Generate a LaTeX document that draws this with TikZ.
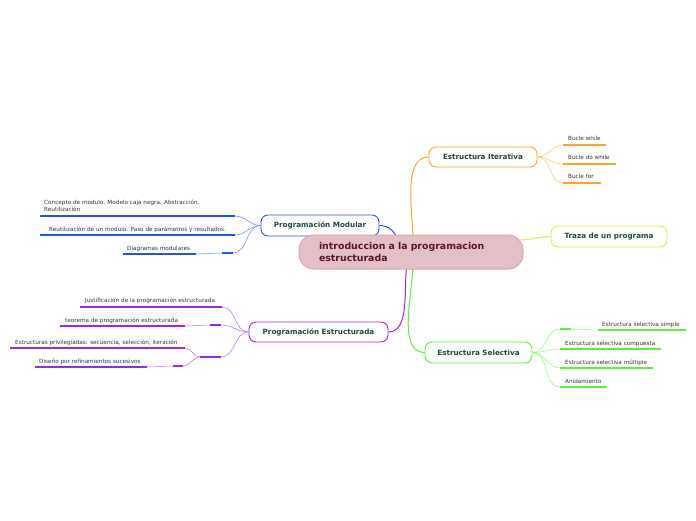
\documentclass[tikz,border=0pt]{standalone}
\usepackage{fontspec}
\setmainfont{DejaVu Sans}
\definecolor{iterc}{HTML}{FCA426}
\definecolor{trazc}{HTML}{DDF03A}
\definecolor{selc}{HTML}{5CF03A}
\definecolor{modc}{HTML}{2255EE}
\definecolor{estc}{HTML}{9A28E8}
\definecolor{cenfill}{HTML}{E3BFC6}
\definecolor{cenline}{HTML}{D9A8B2}
\definecolor{centext}{HTML}{5C1428}
\definecolor{maintext}{HTML}{1B4B3B}
\definecolor{leaftext}{HTML}{333333}
\tikzset{
  mainbox/.style={draw, fill=white, rounded corners=7pt, line width=0.9pt, text=maintext,
    font=\bfseries\fontsize{7.2}{8.5}\selectfont, inner sep=0pt},
  leaf/.style={anchor=base west, inner sep=0pt, text=leaftext, font=\fontsize{5.7}{7}\selectfont},
  uline/.style={line width=1.3pt},
  thin/.style={line width=0.5pt},
  trunk/.style={line width=1pt},
  cenbox/.style={draw=cenline, fill=cenfill, line width=1pt, rounded corners=15pt, minimum width=224pt,
    minimum height=34pt, text width=184pt, align=left, inner xsep=20pt, text=centext,
    font=\bfseries\fontsize{9.4}{12.8}\selectfont},
}
\begin{document}
\begin{tikzpicture}[x=1pt,y=-1pt]
\useasboundingbox (0,0) rectangle (696,520);

% main nodes
\node[mainbox, draw=iterc, minimum width=108pt, minimum height=20pt] (iter) at (483,157) {Estructura Iterativa};
\node[mainbox, draw=trazc, minimum width=116pt, minimum height=21pt] (traza) at (609,236.5) {Traza de un programa};
\node[mainbox, draw=selc, minimum width=107pt, minimum height=21pt] (sel) at (478.5,352.5) {Estructura Selectiva};
\node[mainbox, draw=modc, minimum width=118pt, minimum height=21pt] (mod) at (320,225.5) {Programación Modular};
\node[mainbox, draw=estc, minimum width=139pt, minimum height=20pt] (estr) at (318.5,332) {Programación Estructurada};

% trunk connectors
\coordinate (cIt) at (413,240);
\coordinate (cSe) at (413,264);
\coordinate (cEs) at (407,264);
\coordinate (cMo) at (397,240);
\coordinate (cTr) at (520,240);
\draw[trunk, iterc] (cIt) to[out=90, in=180, looseness=0.8] (iter.west);
\draw[trunk, selc] (cSe) to[out=-90, in=180, looseness=0.8] (sel.west);
\draw[trunk, estc] (cEs) to[out=-100, in=0, looseness=0.8] (estr.east);
\draw[trunk, modc] (mod.east) to[out=0, in=100] (cMo);
\draw[trunk, trazc] (cTr) to[out=0, in=180] (traza.west);

% central
\node[cenbox] (cen) at (411,252) {introduccion a la programacion\\estructurada};

% ---- Iterativa leaves
\node[leaf] (bw) at (568,140) {Bucle while};
\node[leaf] (bdw) at (568,159) {Bucle do while};
\node[leaf] (bf) at (568,178) {Bucle for};
\coordinate (bwA) at (563,145); \coordinate (bwB) at (606,145);
\coordinate (bdwA) at (563,164); \coordinate (bdwB) at (616,164);
\coordinate (bfA) at (563,183); \coordinate (bfB) at (601,183);
\draw[uline, iterc] (bwA) -- (bwB);
\draw[uline, iterc] (bdwA) -- (bdwB);
\draw[uline, iterc] (bfA) -- (bfB);
\draw[thin, iterc!70] (iter.east) to[out=0, in=180] (bwA);
\draw[thin, iterc!70] (iter.east) to[out=0, in=180] (bdwA);
\draw[thin, iterc!70] (iter.east) to[out=0, in=180] (bfA);

% ---- Selectiva leaves
\node[leaf] (ss) at (602,326) {Estructura selectiva simple};
\node[leaf] (sc) at (565,345) {Estructura selectiva compuesta};
\node[leaf] (sm) at (565,364) {Estructura selectiva múltiple};
\node[leaf] (an) at (565,383) {Anidamiento};
\coordinate (ssA) at (560,329); \coordinate (ssM) at (571,329);
\coordinate (ssC) at (598,330); \coordinate (ssB) at (686,330);
\coordinate (scA) at (560,349); \coordinate (scB) at (661,349);
\coordinate (smA) at (560,368); \coordinate (smB) at (653,368);
\coordinate (anA) at (560,387); \coordinate (anB) at (607,387);
\draw[uline, selc] (ssA) -- (ssM);
\draw[thin, selc!70] (ssM) to[out=0, in=180] (ssC);
\draw[uline, selc] (ssC) -- (ssB);
\draw[uline, selc] (scA) -- (scB);
\draw[uline, selc] (smA) -- (smB);
\draw[uline, selc] (anA) -- (anB);
\draw[thin, selc!70] (sel.east) to[out=0, in=180] (ssA);
\draw[thin, selc!70] (sel.east) to[out=0, in=180] (scA);
\draw[thin, selc!70] (sel.east) to[out=0, in=180] (smA);
\draw[thin, selc!70] (sel.east) to[out=0, in=180] (anA);

% ---- Modular leaves
\node[leaf, align=left, anchor=north west] (cm) at (44,200) {Concepto de modulo. Modelo caja negra. Abstracción.\\Reutilización};
\node[leaf] (rm) at (49,231) {Reutilización de un modulo. Paso de parámetros y resultados.};
\node[leaf] (dm) at (127,250) {Diagramas modulares};
\coordinate (cmA) at (235,216); \coordinate (cmB) at (40,216);
\coordinate (rmA) at (235,235); \coordinate (rmB) at (40,235);
\coordinate (dmA) at (233,253); \coordinate (dmM) at (222,253);
\coordinate (dmC) at (196,254); \coordinate (dmB) at (123,254);
\draw[uline, modc] (cmA) -- (cmB);
\draw[uline, modc] (rmA) -- (rmB);
\draw[uline, modc] (dmA) -- (dmM);
\draw[thin, modc!70] (dmM) to[out=180, in=0] (dmC);
\draw[uline, modc] (dmC) -- (dmB);
\draw[thin, modc!70] (mod.west) to[out=180, in=0] (cmA);
\draw[thin, modc!70] (mod.west) to[out=180, in=0] (rmA);
\draw[thin, modc!70] (mod.west) to[out=180, in=0] (dmA);

% ---- Estructurada leaves
\node[leaf] (ju) at (85,302) {Justificación de la programación estructurada};
\node[leaf] (te) at (65,322) {teorema de programación estructurada};
\node[leaf] (ep) at (15,344) {Estructuras privilegiadas: secuencia, selección, iteración};
\node[leaf] (dr) at (39,363) {Diseño por refinamientos sucesivos};
\coordinate (juA) at (222,307); \coordinate (juB) at (80,307);
\coordinate (teA) at (221,325); \coordinate (teM) at (210,325);
\coordinate (teC) at (185,326); \coordinate (teB) at (60,326);
\coordinate (grA) at (221,357); \coordinate (grM) at (200,357);
\coordinate (epA) at (185,348); \coordinate (epB) at (10,348);
\coordinate (drA) at (183,366); \coordinate (drM) at (173,366);
\coordinate (drC) at (147,367); \coordinate (drB) at (35,367);
\draw[uline, estc] (juA) -- (juB);
\draw[uline, estc] (teA) -- (teM);
\draw[thin, estc!70] (teM) to[out=180, in=0] (teC);
\draw[uline, estc] (teC) -- (teB);
\draw[uline, estc] (grA) -- (grM);
\draw[thin, estc!70] (grM) to[out=180, in=0] (epA);
\draw[thin, estc!70] (grM) to[out=180, in=0] (drA);
\draw[uline, estc] (epA) -- (epB);
\draw[uline, estc] (drA) -- (drM);
\draw[thin, estc!70] (drM) to[out=180, in=0] (drC);
\draw[uline, estc] (drC) -- (drB);
\draw[thin, estc!70] (estr.west) to[out=180, in=0] (juA);
\draw[thin, estc!70] (estr.west) to[out=180, in=0] (teA);
\draw[thin, estc!70] (estr.west) to[out=180, in=0] (grA);
\end{tikzpicture}
\end{document}
